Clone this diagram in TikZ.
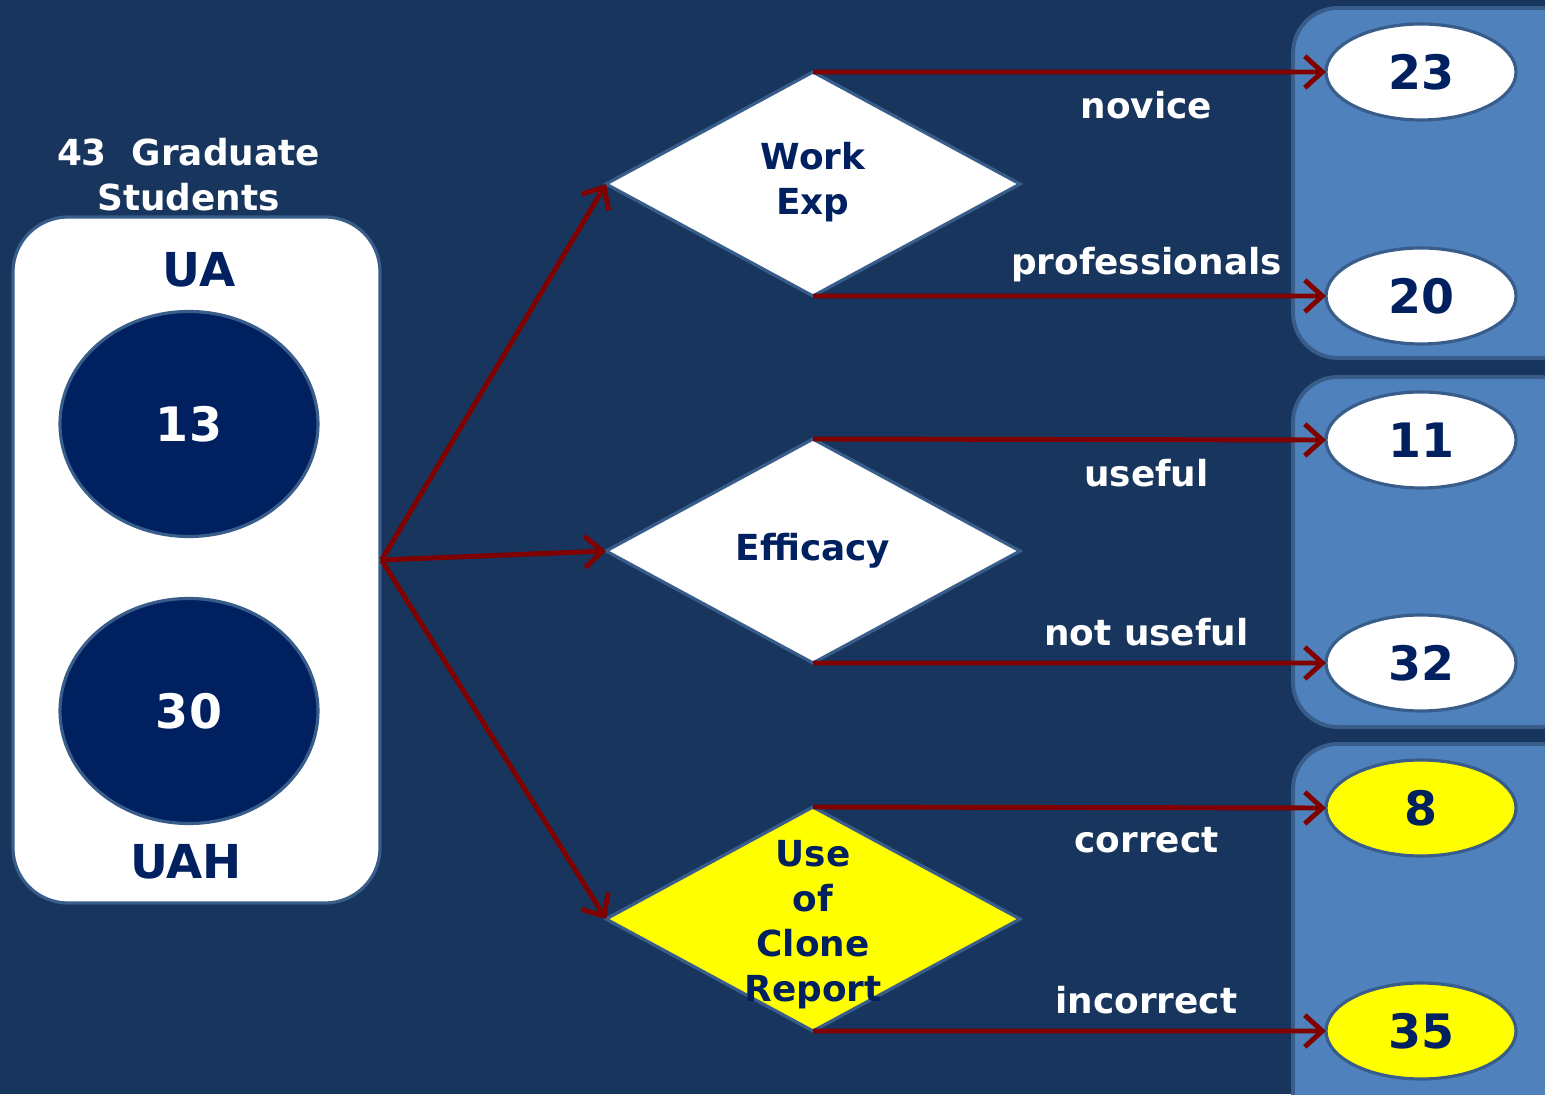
\documentclass[tikz,border=0pt]{standalone}
\usepackage{fontspec}
\setmainfont{DejaVu Sans}
\usepackage{tikz}
\usetikzlibrary{shapes.geometric}
\usetikzlibrary{arrows.meta}
\usepackage{xcolor}
\definecolor{bgblue}{RGB}{24,54,93}
\definecolor{navy}{RGB}{0,32,96}
\definecolor{edgeblue}{RGB}{56,93,138}
\definecolor{panelblue}{RGB}{79,129,189}
\definecolor{arrowred}{RGB}{128,0,0}
\definecolor{brightyellow}{RGB}{255,255,0}
\tikzset{
  boldtext/.style={font=\bfseries\fontsize{10.2}{12.8}\selectfont},
  bignum/.style={font=\bfseries\fontsize{13.5}{16}\selectfont},
  campus/.style={font=\bfseries\fontsize{13.3}{16}\selectfont,text=navy},
  circ/.style={ellipse,draw=edgeblue,line width=0.9pt,fill=navy,text=white,bignum,
    minimum width=2.58cm,minimum height=2.25cm,inner sep=0pt},
  dia/.style={diamond,draw=edgeblue,line width=0.9pt,fill=white,outer sep=0pt,
    minimum width=4.14cm,minimum height=2.24cm,inner sep=0pt},
  diatext/.style={boldtext,text=navy,align=center},
  result/.style={ellipse,draw=edgeblue,line width=0.9pt,fill=white,text=navy,bignum,
    minimum width=1.9cm,minimum height=0.96cm,inner sep=0pt,outer sep=0pt},
  panel/.style={draw=edgeblue,line width=1.1pt,fill=panelblue,rounded corners=0.45cm},
  flow/.style={->,draw=arrowred,line width=1.4pt},
  lblup/.style={pos=0.65,yshift=0.31cm,boldtext,text=white},
  lbldown/.style={pos=0.65,yshift=-0.33cm,boldtext,text=white}
}
\begin{document}
\begin{tikzpicture}[>={Straight Barb[length=5pt,width=9pt]}]
 \useasboundingbox (0,0) rectangle (15.45,10.94);
 \fill[bgblue] (0,0) rectangle (15.45,10.94);

 % left box with the two universities
 \node[boldtext,text=white,align=center] (title) at (1.885,9.195) {43\ \ Graduate\\Students};
 \node[draw=edgeblue,line width=0.9pt,fill=white,rounded corners=0.55cm,
   minimum width=3.67cm,minimum height=6.86cm] (students) at (1.965,5.34) {};
 \node[campus] (ua) at (1.99,8.24) {UA};
 \node[circ] (ua13) at (1.89,6.70) {13};
 \node[circ] (uah30) at (1.89,3.83) {30};
 \node[campus] (uah) at (1.86,2.32) {UAH};

 % right panels
 \draw[panel] (12.93,7.36) rectangle (15.85,10.86);
 \draw[panel] (12.93,3.67) rectangle (15.85,7.17);
 \draw[panel] (12.93,-0.5) rectangle (15.85,3.50);

 % the three questions
 \node[dia] (work) at (8.13,9.10) {};
 \node[diatext] at (8.13,9.12) {Work\\Exp};
 \node[dia] (efficacy) at (8.13,5.43) {};
 \node[diatext] at (efficacy) {Efficacy};
 \node[dia,fill=brightyellow] (clone) at (8.13,1.75) {};
 \node[diatext] at (8.13,1.69) {Use\\of\\Clone\\Report};

 % answers
 \node[result] (novice) at (14.21,10.22) {23};
 \node[result] (prof) at (14.21,7.98) {20};
 \node[result] (useful) at (14.21,6.54) {11};
 \node[result] (notuseful) at (14.21,4.31) {32};
 \node[result,fill=brightyellow] (correct) at (14.21,2.86) {8};
 \node[result,fill=brightyellow] (incorrect) at (14.21,0.63) {35};

 \draw[flow] (students.east) -- (work.west);
 \draw[flow] (students.east) -- (efficacy.west);
 \draw[flow] (students.east) -- (clone.west);

 \draw[flow] (work.north) -- (novice.west) node[lbldown] {novice};
 \draw[flow] (work.south) -- (prof.west) node[lblup] {professionals};
 \draw[flow] (efficacy.north) -- (useful.west) node[lbldown] {useful};
 \draw[flow] (efficacy.south) -- (notuseful.west) node[lblup] {not useful};
 \draw[flow] (clone.north) -- (correct.west) node[lbldown] {correct};
 \draw[flow] (clone.south) -- (incorrect.west) node[lblup] {incorrect};
\end{tikzpicture}
\end{document}
